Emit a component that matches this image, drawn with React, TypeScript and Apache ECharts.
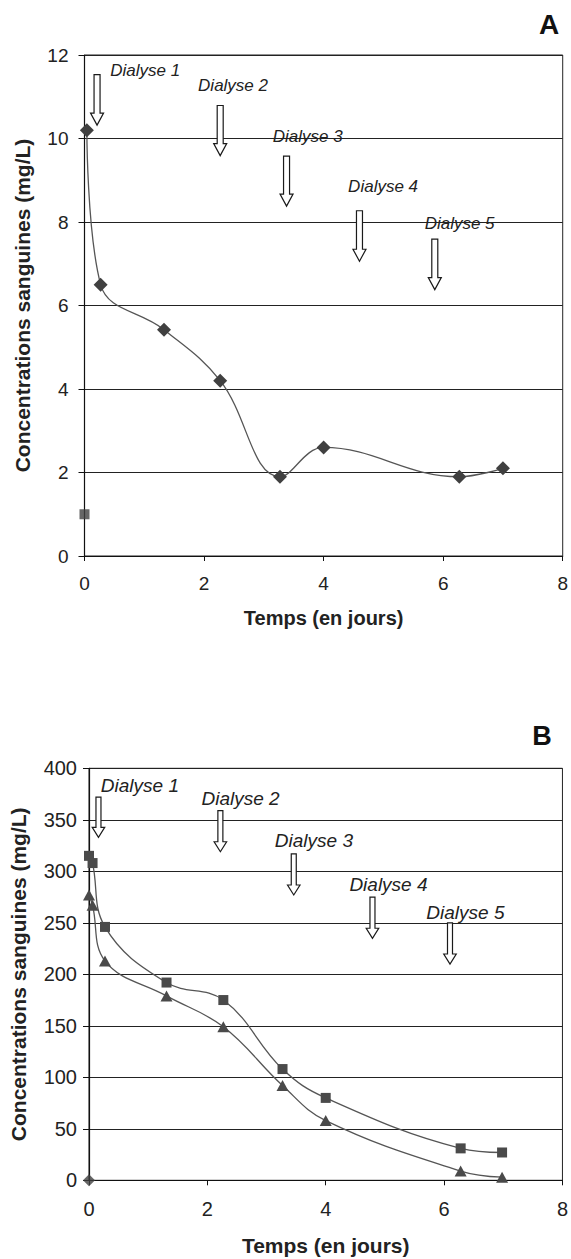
import React, { useEffect, useRef } from "react";
import * as echarts from "echarts";

const FONT = "'Liberation Sans', Arial, sans-serif";

// Chart A
const daysA = [0.04, 0.27, 1.33, 2.27, 3.27, 4.0, 6.27, 7.0];
const concA = [10.2, 6.5, 5.42, 4.2, 1.9, 2.6, 1.9, 2.1];
const squareA = [[0, 1.0]];

// Chart B
const daysB = [0, 0.06, 0.27, 1.31, 2.27, 3.27, 4.0, 6.28, 6.98];
const squaresB = [315, 308, 246, 192, 175, 108, 80, 31, 27];
const trianglesB = [277, 267, 213, 179, 149, 92, 58, 9, 3];
const diamondB = [[0, 0]];

// Dialysis annotations
const dialyseLabels = ["Dialyse 1", "Dialyse 2", "Dialyse 3", "Dialyse 4", "Dialyse 5"];
const arrowA_x = [0.21, 2.27, 3.38, 4.6, 5.86];
const arrowA_top = [11.53, 10.79, 9.58, 8.27, 7.59];
const arrowA_tip = [10.32, 9.59, 8.38, 7.06, 6.38];
const labelA_x = [0.43, 1.9, 3.15, 4.41, 5.69];
const labelA_y = [11.64, 11.28, 10.04, 8.85, 7.96];

const arrowB_x = [0.16, 2.22, 3.46, 4.79, 6.1];
const arrowB_top = [372, 359, 317, 275, 250];
const arrowB_tip = [333, 319, 277, 235, 210];
const labelB_x = [0.2, 1.9, 3.14, 4.4, 5.7];
const labelB_y = [383, 371, 330, 287, 260];

function arrowSeries(idx: number, xs: number[], tops: number[], tips: number[], lx: number[], ly: number[], fontSize: number, shaftW: number, headW: number, headH: number) {
  const data = xs.map((x, i) => [x, tops[i], tips[i], lx[i], ly[i]]);
  return {
    type: "custom",
    xAxisIndex: idx,
    yAxisIndex: idx,
    data,
    silent: true,
    clip: false,
    z: 5,
    encode: { x: [0, 3], y: [1, 2, 4] },
    renderItem: (params: any, api: any) => {
      const top = api.coord([api.value(0), api.value(1)]);
      const tip = api.coord([api.value(0), api.value(2)]);
      const lab = api.coord([api.value(3), api.value(4)]);
      const cx = top[0];
      const sw = shaftW / 2;
      const hw = headW / 2;
      const hy = tip[1] - headH;
      return {
        type: "group",
        children: [
          {
            type: "polygon",
            shape: {
              points: [
                [cx - sw, top[1]],
                [cx + sw, top[1]],
                [cx + sw, hy],
                [cx + hw, hy],
                [cx, tip[1]],
                [cx - hw, hy],
                [cx - sw, hy],
              ],
            },
            style: { fill: "#ffffff", stroke: "#1a1a1a", lineWidth: 1.2 },
          },
          {
            type: "text",
            x: lab[0],
            y: lab[1],
            style: {
              text: dialyseLabels[params.dataIndex],
              fontSize,
              fontStyle: "italic",
              fontFamily: FONT,
              fill: "#222",
              align: "left",
              verticalAlign: "middle",
            },
          },
        ],
      };
    },
  };
}

function xAxisDef(idx: number, labelSize: number, nameSize: number, labelMargin: number, nameGap: number) {
  return {
    type: "value",
    gridIndex: idx,
    min: 0,
    max: 8,
    interval: 2,
    axisLine: { show: true, lineStyle: { color: "#111", width: 1.2 } },
    axisTick: { show: true, length: 5, inside: false, lineStyle: { color: "#111" } },
    axisLabel: { fontSize: labelSize, color: "#222", margin: labelMargin, fontFamily: FONT },
    splitLine: { show: false },
    name: "Temps (en jours)",
    nameLocation: "middle",
    nameGap,
    nameTextStyle: { fontSize: nameSize, fontWeight: "bold", color: "#222", fontFamily: FONT },
  };
}

function yAxisDef(idx: number, max: number, interval: number, labelSize: number, nameSize: number, labelMargin: number, nameGap: number) {
  return {
    type: "value",
    gridIndex: idx,
    min: 0,
    max,
    interval,
    axisLine: { show: true, lineStyle: { color: "#111", width: 1.2 } },
    axisTick: { show: true, length: 6, inside: false, lineStyle: { color: "#111" } },
    axisLabel: { fontSize: labelSize, color: "#222", margin: labelMargin, fontFamily: FONT },
    splitLine: { show: true, lineStyle: { color: "#222", width: 1 } },
    name: "Concentrations sanguines (mg/L)",
    nameLocation: "middle",
    nameRotate: 90,
    nameGap,
    nameTextStyle: { fontSize: nameSize, fontWeight: "bold", color: "#222", fontFamily: FONT },
  };
}

export default function App() {
  const ref = useRef<HTMLDivElement>(null);
  useEffect(() => {
    document.body.style.margin = "0";
    const chart = echarts.init(ref.current!, undefined, { renderer: "svg" });
    const option: any = {
      animation: false,
      backgroundColor: "#ffffff",
      grid: [
        { left: 84.5, top: 55, width: 480, height: 501, show: true, borderColor: "#222", borderWidth: 1, backgroundColor: "transparent" },
        { left: 86.7, top: 768.3, width: 476, height: 412, show: true, borderColor: "#222", borderWidth: 1, backgroundColor: "transparent" },
      ],
      xAxis: [xAxisDef(0, 19, 20, 18, 52), xAxisDef(1, 20, 21, 19, 55)],
      yAxis: [yAxisDef(0, 12, 2, 19, 21, 16, 52), yAxisDef(1, 400, 50, 20, 21, 12, 60)],
      graphic: [
        { type: "text", x: 549, y: 24, style: { text: "A", fontSize: 28, fontWeight: "bold", fill: "#111", fontFamily: FONT, align: "center", verticalAlign: "middle" } },
        { type: "text", x: 542, y: 736, style: { text: "B", fontSize: 27, fontWeight: "bold", fill: "#111", fontFamily: FONT, align: "center", verticalAlign: "middle" } },
      ],
      series: [
        {
          type: "line",
          xAxisIndex: 0,
          yAxisIndex: 0,
          data: daysA.map((d, i) => [d, concA[i]]),
          smooth: 0.4,
          symbol: "diamond",
          symbolSize: 14,
          clip: false,
          itemStyle: { color: "#404040" },
          lineStyle: { color: "#555", width: 1.3 },
          z: 3,
        },
        {
          type: "scatter",
          xAxisIndex: 0,
          yAxisIndex: 0,
          data: squareA,
          symbol: "rect",
          symbolSize: 10,
          clip: false,
          itemStyle: { color: "#404040" },
          z: 3,
        },
        {
          type: "line",
          xAxisIndex: 1,
          yAxisIndex: 1,
          data: daysB.map((d, i) => [d, squaresB[i]]),
          smooth: 0.4,
          symbol: "rect",
          symbolSize: 10,
          clip: false,
          itemStyle: { color: "#4a4a4a" },
          lineStyle: { color: "#555", width: 1.3 },
          z: 3,
        },
        {
          type: "line",
          xAxisIndex: 1,
          yAxisIndex: 1,
          data: daysB.map((d, i) => [d, trianglesB[i]]),
          smooth: 0.4,
          symbol: "triangle",
          symbolSize: [12, 11],
          clip: false,
          itemStyle: { color: "#4a4a4a" },
          lineStyle: { color: "#555", width: 1.3 },
          z: 3,
        },
        {
          type: "scatter",
          xAxisIndex: 1,
          yAxisIndex: 1,
          data: diamondB,
          symbol: "diamond",
          symbolSize: 12,
          clip: false,
          itemStyle: { color: "#404040" },
          z: 3,
        },
        arrowSeries(0, arrowA_x, arrowA_top, arrowA_tip, labelA_x, labelA_y, 17, 6, 13, 12),
        arrowSeries(1, arrowB_x, arrowB_top, arrowB_tip, labelB_x, labelB_y, 19, 5, 12.5, 10),
      ],
    };
    chart.setOption(option);
    return () => chart.dispose();
  }, []);
  return <div ref={ref} style={{ width: 571, height: 1259 }} />;
}
